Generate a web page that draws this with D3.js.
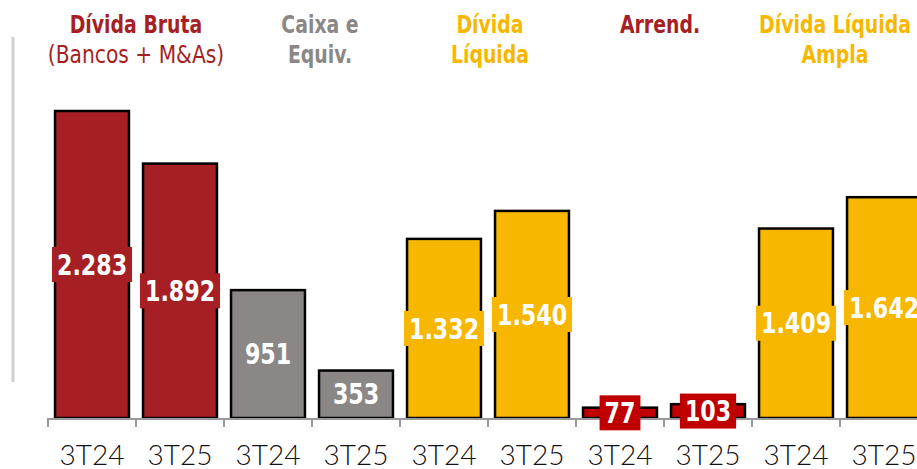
<!DOCTYPE html>
<html>
<head>
<meta charset="utf-8">
<script src="https://cdn.jsdelivr.net/npm/d3@7"></script>
<style>
  body { margin: 0; background: #fff; }
  svg { display: block; }
  .tick-label { font-family: "Lato", "DejaVu Sans Condensed", sans-serif; font-weight: 300; font-size: 28px; fill: #111; }
  .head { font-family: "DejaVu Sans Condensed", sans-serif; font-size: 25px; text-anchor: middle; }
  .val { font-family: "DejaVu Sans Condensed", sans-serif; font-size: 28px; font-weight: bold; fill: #fff; text-anchor: middle; }
</style>
</head>
<body>
<svg width="917" height="469"></svg>
<script>
// data
const periods = ["3T24", "3T25", "3T24", "3T25", "3T24", "3T25", "3T24", "3T25", "3T24", "3T25"];
const values = [2283, 1892, 951, 353, 1332, 1540, 77, 103, 1409, 1642];
const valueLabels = ["2.283", "1.892", "951", "353", "1.332", "1.540", "77", "103", "1.409", "1.642"];
const groups = ["bruta", "bruta", "caixa", "caixa", "liq", "liq", "arrend", "arrend", "ampla", "ampla"];
const headers = [
  { group: "bruta", lines: ["Dívida Bruta", "(Bancos + M&As)"] },
  { group: "caixa", lines: ["Caixa e", "Equiv."] },
  { group: "liq", lines: ["Dívida", "Líquida"] },
  { group: "arrend", lines: ["Arrend."] },
  { group: "ampla", lines: ["Dívida Líquida", "Ampla"] }
];

const fill = { bruta: "#a61f24", caixa: "#8c8787", liq: "#f7b700", arrend: "#c00000", ampla: "#f7b700" };
const headColor = { bruta: "#a61f24", caixa: "#8c8787", liq: "#f7b700", arrend: "#a61f24", ampla: "#f7b700" };
// small nudges of header centres
const headShift = { bruta: 0, caixa: 8, liq: 2, arrend: -4, ampla: -5 };

const svg = d3.select("svg");
const base = 418;

const idx = d3.range(values.length);
const x = d3.scaleBand().domain(idx).range([48, 928]).paddingInner(0.16).paddingOuter(0.08);
const y = d3.scaleLinear().domain([0, 2283]).range([base, 111]);
const step = x.step();

// left guide line
svg.append("line")
  .attr("x1", 13).attr("x2", 13).attr("y1", 37).attr("y2", 382)
  .attr("stroke", "#cfcfcf").attr("stroke-width", 3);

// bars
svg.selectAll("rect.bar")
  .data(idx)
  .join("rect")
  .attr("class", "bar")
  .attr("x", i => x(i))
  .attr("width", x.bandwidth())
  .attr("y", i => y(values[i]))
  .attr("height", i => base - y(values[i]))
  .attr("fill", i => fill[groups[i]])
  .attr("stroke", "#000")
  .attr("stroke-width", 2.5);

// axis: line + ticks on band boundaries
const axis = svg.append("g");
axis.append("line")
  .attr("x1", 48).attr("x2", 917).attr("y1", base + 1).attr("y2", base + 1)
  .attr("stroke", "#999").attr("stroke-width", 2);
axis.selectAll("line.tk")
  .data(d3.range(values.length + 1))
  .join("line")
  .attr("class", "tk")
  .attr("x1", i => 48 + i * step).attr("x2", i => 48 + i * step)
  .attr("y1", base).attr("y2", base + 9)
  .attr("stroke", "#999").attr("stroke-width", 2);

const xAxis = d3.axisBottom(x).tickSize(0).tickFormat(i => periods[i]);
svg.append("g")
  .attr("transform", `translate(0,${base})`)
  .call(xAxis)
  .call(g => g.select(".domain").remove())
  .selectAll("text")
  .attr("class", "tick-label")
  .attr("y", 47)
  .attr("dy", 0)
  .attr("font-family", null)
  .attr("font-size", null)
  .attr("fill", null);

// value labels with boxes
const sx = 0.88;
const lab = svg.selectAll("g.lab")
  .data(idx)
  .join("g")
  .attr("class", "lab")
  .attr("transform", i => `translate(${x(i) + x.bandwidth() / 2},${(y(values[i]) + base) / 2})`);

lab.append("text")
  .attr("class", "val")
  .attr("dy", "0.36em")
  .attr("transform", `scale(${sx},1)`)
  .text(i => valueLabels[i]);

lab.each(function (i) {
  const g = d3.select(this);
  const bb = g.select("text").node().getBBox();
  g.insert("rect", "text")
    .attr("x", bb.x * sx - 5)
    .attr("width", bb.width * sx + 10)
    .attr("y", -17.5)
    .attr("height", 35)
    .attr("fill", fill[groups[i]]);
});

// headers
headers.forEach(h => {
  const members = idx.filter(i => groups[i] === h.group);
  const cx = (x(members[0]) + x(members[members.length - 1]) + x.bandwidth()) / 2 + headShift[h.group];
  h.lines.forEach((t, k) => {
    const normal = h.group === "bruta" && k === 1;
    svg.append("text")
      .attr("class", "head")
      .attr("transform", `translate(${cx},${33 + k * 30}) scale(${normal ? 0.9 : 0.84},1)`)
      .attr("fill", headColor[h.group])
      .attr("font-weight", normal ? "normal" : "bold")
      .text(t);
  });
});
</script>
</body>
</html>
